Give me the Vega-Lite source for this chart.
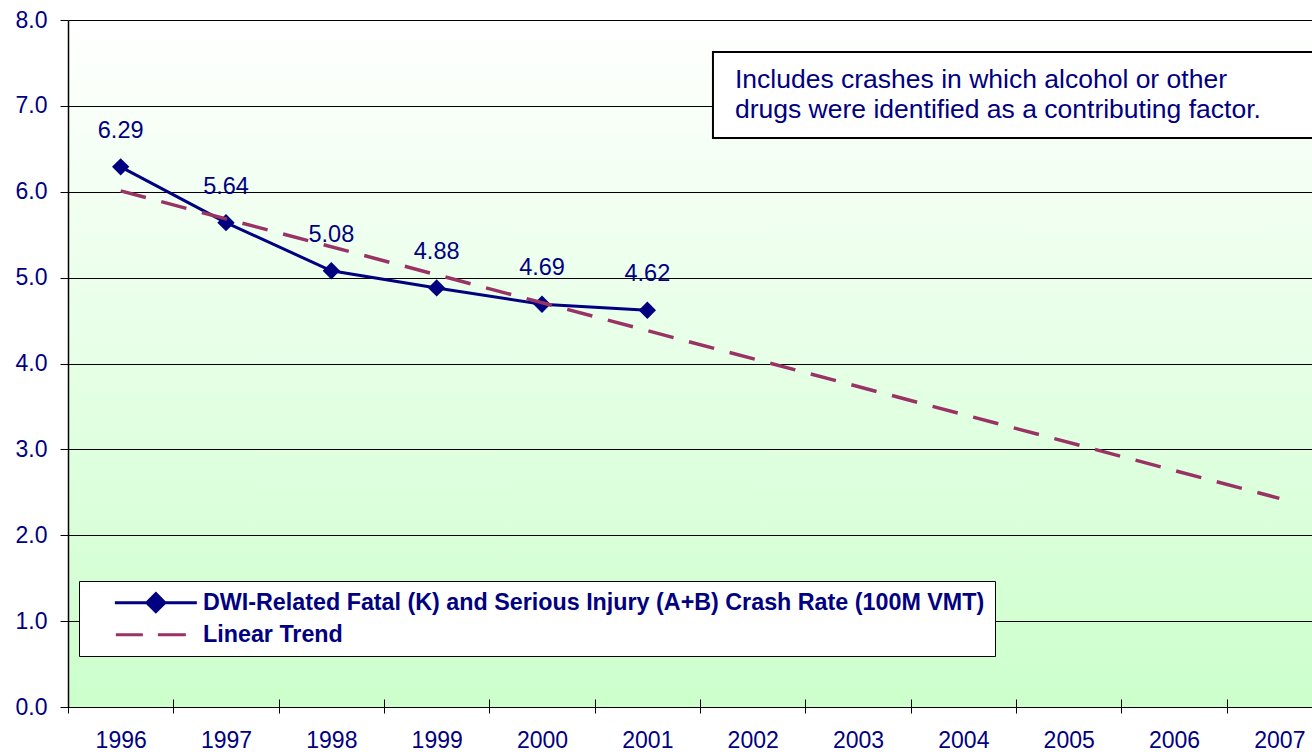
{
  "$schema": "https://vega.github.io/schema/vega-lite/v6.json",
  "width": 1244,
  "height": 687,
  "autosize": "none",
  "padding": {"left": 68, "top": 20, "right": 0, "bottom": 47},
  "background": "white",
  "view": {
    "stroke": null,
    "fill": {"gradient": "linear", "x1": 0, "y1": 0, "x2": 0, "y2": 1,
      "stops": [{"offset": 0, "color": "#ffffff"}, {"offset": 1, "color": "#ccffcc"}]}
  },
  "config": {
    "font": "Liberation Sans",
    "axisX": {
      "grid": false, "domain": false, "offset": -8, "tickSize": 14, "tickColor": "black", "tickWidth": 1,
      "labelFont": "Liberation Sans", "labelFontSize": 23, "labelColor": "#000080",
      "labelBaseline": "alphabetic", "labelPadding": 34, "labelFlush": false, "labelOverlap": false, "labelBound": false
    },
    "axisY": {
      "grid": true, "gridColor": "black", "gridWidth": 1, "gridOpacity": 1,
      "domain": true, "domainColor": "black", "domainWidth": 1.5,
      "tickSize": 8, "tickColor": "black", "tickWidth": 1,
      "labelFont": "Liberation Sans", "labelFontSize": 23, "labelColor": "#000080", "labelPadding": 13,
      "labelFlush": false, "labelOverlap": false
    }
  },
  "datasets": {
    "rates": [
      {"year": 1996, "value": 6.29, "series": "DWI-Related Fatal (K) and Serious Injury (A+B) Crash Rate (100M VMT)"},
      {"year": 1997, "value": 5.64, "series": "DWI-Related Fatal (K) and Serious Injury (A+B) Crash Rate (100M VMT)"},
      {"year": 1998, "value": 5.08, "series": "DWI-Related Fatal (K) and Serious Injury (A+B) Crash Rate (100M VMT)"},
      {"year": 1999, "value": 4.88, "series": "DWI-Related Fatal (K) and Serious Injury (A+B) Crash Rate (100M VMT)"},
      {"year": 2000, "value": 4.69, "series": "DWI-Related Fatal (K) and Serious Injury (A+B) Crash Rate (100M VMT)"},
      {"year": 2001, "value": 4.62, "series": "DWI-Related Fatal (K) and Serious Injury (A+B) Crash Rate (100M VMT)"}
    ],
    "trend": [
      {"year": 1996, "value": 6.01, "series": "Linear Trend"},
      {"year": 2007, "value": 2.43, "series": "Linear Trend"}
    ],
    "note": [
      {"note": "Includes crashes in which alcohol or other drugs were identified as a contributing factor."}
    ]
  },
  "layer": [
    {
      "data": {"name": "rates"},
      "mark": {"type": "line", "strokeWidth": 3},
      "encoding": {
        "x": {
          "field": "year", "type": "quantitative", "title": null,
          "scale": {"domain": [1995.5, 2007.5], "range": [0, 1264], "nice": false, "zero": false},
          "axis": {
            "title": null,
            "values": [1995.5, 1996.5, 1997.5, 1998.5, 1999.5, 2000.5, 2001.5, 2002.5, 2003.5, 2004.5, 2005.5, 2006.5, 2007.5],
            "labelExpr": "datum.value < 2007 ? toString(datum.value + 0.5) : ''",
            "labelOffset": 52.67
          }
        },
        "y": {
          "field": "value", "type": "quantitative", "title": null,
          "scale": {"domain": [0, 8], "nice": false, "zero": false},
          "axis": {"title": null, "values": [0, 1, 2, 3, 4, 5, 6, 7, 8], "format": ".1f"}
        },
        "color": {
          "field": "series", "type": "nominal",
          "scale": {
            "domain": ["DWI-Related Fatal (K) and Serious Injury (A+B) Crash Rate (100M VMT)", "Linear Trend"],
            "range": ["#000080", "#993366"]
          },
          "legend": {
            "orient": "none", "legendX": 11, "legendY": 561, "title": null,
            "fillColor": "white", "strokeColor": "black", "padding": 10, "rowPadding": 4,
            "symbolSize": 400, "symbolStrokeWidth": 3, "symbolOffset": 55.2, "labelOffset": 35.5,
            "labelFont": "Liberation Sans", "labelFontSize": 23.3, "labelFontWeight": "bold",
            "labelColor": "#000080", "labelLimit": 2000,
            "encode": {
              "symbols": {
                "update": {
                  "shape": {"signal": "datum.value === 'Linear Trend' ? 'M-4,0H-1.3M0.2,0H3' : 'M-4.1,0H4.1M0,-0.9L0.9,0L0,0.9L-0.9,0Z'"},
                  "fill": {"signal": "datum.value === 'Linear Trend' ? 'transparent' : '#000080'"}
                }
              }
            }
          }
        }
      }
    },
    {
      "data": {"name": "rates"},
      "mark": {"type": "point", "shape": "diamond", "filled": true, "size": 300, "color": "#000080", "opacity": 1},
      "encoding": {
        "x": {"field": "year", "type": "quantitative"},
        "y": {"field": "value", "type": "quantitative"}
      }
    },
    {
      "data": {"name": "trend"},
      "mark": {"type": "line", "strokeWidth": 3.5, "strokeDash": [26, 16]},
      "encoding": {
        "x": {"field": "year", "type": "quantitative"},
        "y": {"field": "value", "type": "quantitative"},
        "color": {"field": "series", "type": "nominal"}
      }
    },
    {
      "data": {"name": "rates"},
      "mark": {"type": "text", "dy": -29, "baseline": "alphabetic", "align": "center", "fontSize": 23.5, "color": "#000080", "font": "Liberation Sans"},
      "encoding": {
        "x": {"field": "year", "type": "quantitative"},
        "y": {"field": "value", "type": "quantitative"},
        "text": {"field": "value", "type": "quantitative", "format": ".2f"}
      }
    },
    {
      "data": {"name": "note"},
      "mark": {"type": "rect", "fill": "white", "stroke": "black", "strokeWidth": 2},
      "encoding": {
        "x": {"datum": 2001.623, "type": "quantitative"},
        "x2": {"datum": 2007.7},
        "y": {"datum": 7.627, "type": "quantitative"},
        "y2": {"datum": 6.626}
      }
    },
    {
      "data": {"name": "note"},
      "mark": {
        "type": "text",
        "text": ["Includes crashes in which alcohol or other", "drugs were identified as a contributing factor."],
        "align": "left", "baseline": "alphabetic", "fontSize": 26.5, "lineHeight": 29.5,
        "color": "#000080", "font": "Liberation Sans"
      },
      "encoding": {
        "x": {"datum": 2001.832, "type": "quantitative"},
        "y": {"datum": 7.208, "type": "quantitative"}
      }
    }
  ]
}
